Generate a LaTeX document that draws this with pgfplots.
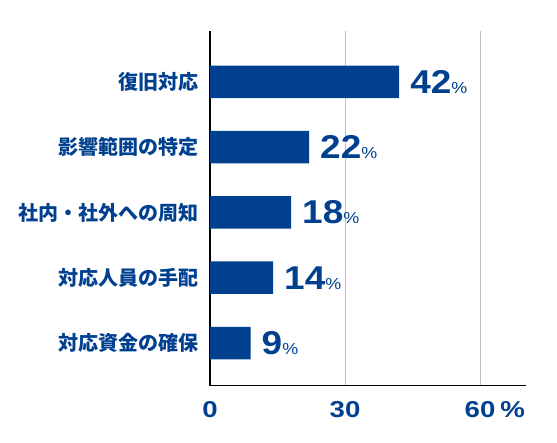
\documentclass[border=0pt]{standalone}
\usepackage{pgfplots}
\pgfplotsset{compat=1.18}
\usepackage{fontspec}
\setmainfont{Liberation Sans}
\newfontfamily\jpfont{Noto Sans CJK JP}
\newfontfamily\numfont[FakeStretch=1.12]{Liberation Sans}
\newfontfamily\tickfont[FakeStretch=1.2]{Liberation Sans}
\definecolor{cnavy}{RGB}{0,64,143}

\begin{document}
\begin{tikzpicture}
\useasboundingbox (-210pt,-56.3pt) rectangle (347pt,385.7pt);
\begin{axis}[
    at={(0,0)}, anchor=south west,
    scale only axis,
    width=316pt, height=354.7pt,
    xbar,
    bar width=32.5pt,
    xmin=0, xmax=70.2,
    ymin=-0.654, ymax=4.78,
    axis x line=bottom, axis y line=left,
    axis line style={-, black, line width=1.3pt},
    xtick={0,30,60},
    xticklabels={0,30,60\rlap{\hspace{5pt}\%}},
    ytick={0,1,2,3,4},
    yticklabels={対応資金の確保, 対応人員の手配, 社内・社外への周知, 影響範囲の特定, 復旧対応},
    major tick length=0pt,
    xmajorgrids,
    grid style={gray!50, line width=1pt},
    xticklabel style={font=\tickfont\bfseries\fontsize{23}{23}\selectfont, text=cnavy, anchor=north, inner sep=0pt, yshift=-15.5pt},
    yticklabel style={font=\jpfont\bfseries\fontsize{20}{20}\selectfont, text=cnavy, anchor=east, inner sep=0pt, xshift=-11pt},
    /pgf/number format/assume math mode=true,
    nodes near coords={\numfont\bfseries\fontsize{33}{33}\selectfont\pgfmathprintnumber{\pgfplotspointmeta}{\fontsize{16}{16}\selectfont\mdseries\%}},
    nodes near coords style={anchor=west, text=cnavy, inner sep=0pt, xshift=11pt},
    ]
    \addplot[fill=cnavy, draw=none] coordinates {
        (9,0) (14,1) (18,2) (22,3) (42,4)
    };
\end{axis}
\end{tikzpicture}
\end{document}
